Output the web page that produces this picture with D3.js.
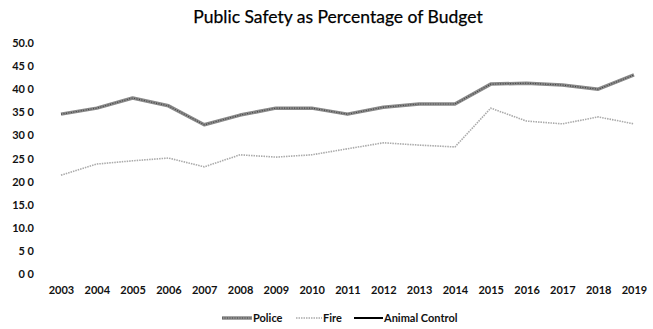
<!DOCTYPE html>
<html><head><meta charset="utf-8">
<script src="https://cdn.jsdelivr.net/npm/d3@7"></script>
<style>body{margin:0;background:#fff}svg{display:block}text{font-family:Lato,"Open Sans",sans-serif}</style>
</head><body><svg id="c" width="653" height="329"></svg>
<script>
const years = ["2003","2004","2005","2006","2007","2008","2009","2010","2011","2012","2013","2014","2015","2016","2017","2018","2019"];
const police = [34.6,35.9,38.1,36.4,32.3,34.4,35.9,35.9,34.6,36.1,36.8,36.8,41.1,41.3,40.9,40.0,43.1];
const fire = [21.4,23.8,24.5,25.1,23.2,25.8,25.3,25.8,27.1,28.4,27.9,27.5,35.9,33.1,32.5,34.0,32.5];
const animalControl = [];
const yTicks = [0,5,10,15,20,25,30,35,40,45,50];
const yTickLabels = ["0 0","5 0","10.0","15.0","20 0","25 0","30 0","35 0","40 0","45 0","50.0"];

const svg = d3.select("#c");
const x = d3.scalePoint().domain(years).range([61,634]);
const y = d3.scaleLinear().domain([0,50]).range([274,43]);

svg.append("text").attr("x",338).attr("y",23).attr("text-anchor","middle")
  .attr("font-size",17.5).attr("fill","#000").attr("stroke","#000").attr("stroke-width",0.25)
  .text("Public Safety as Percentage of Budget");

const yAxis = d3.axisLeft(y).tickValues(yTicks).tickSize(0).tickPadding(0)
  .tickFormat((d,i)=>yTickLabels[i]);
const gy = svg.append("g").attr("transform","translate(34,0)").call(yAxis);
gy.select(".domain").remove();
gy.selectAll("text").attr("font-size",11).attr("font-weight","bold").attr("fill","#111");

const xAxis = d3.axisBottom(x).tickSize(0).tickPadding(0);
const gx = svg.append("g").attr("transform","translate(0,286)").call(xAxis);
gx.select(".domain").remove();
gx.selectAll("text").attr("font-size",11).attr("font-weight","bold").attr("fill","#111");

const line = d3.line().x((d,i)=>x(years[i])).y(d=>y(d));
// Police: thick textured gray
svg.append("path").datum(police).attr("d",line).attr("fill","none")
  .attr("stroke","#8a8a8a").attr("stroke-width",3.5).attr("stroke-linejoin","round");
svg.append("path").datum(police).attr("d",line).attr("fill","none")
  .attr("stroke","#444").attr("stroke-width",1.2).attr("stroke-dasharray","1 1.5");
// Fire: light dotted
svg.append("path").datum(fire).attr("d",line).attr("fill","none")
  .attr("stroke","#aaa").attr("stroke-width",1.6).attr("stroke-dasharray","1.5 1");
// Animal control
if (animalControl.length) svg.append("path").datum(animalControl).attr("d",line)
  .attr("fill","none").attr("stroke","#000").attr("stroke-width",2);

// Legend
const leg = svg.append("g").attr("transform","translate(0,318)");
const items = [
  {name:"Police", x1:222, x2:252, stroke:"#8a8a8a", w:3.5, dash:null},
  {name:"Fire", x1:296, x2:322, stroke:"#aaa", w:1.6, dash:"1.5 1"},
  {name:"Animal Control", x1:354, x2:383, stroke:"#000", w:2, dash:null}
];
items.forEach(it=>{
  leg.append("line").attr("x1",it.x1).attr("x2",it.x2).attr("y1",0).attr("y2",0)
    .attr("stroke",it.stroke).attr("stroke-width",it.w).attr("stroke-dasharray",it.dash);
  if (it.name==="Police") leg.append("line").attr("x1",it.x1).attr("x2",it.x2).attr("y1",0).attr("y2",0)
    .attr("stroke","#444").attr("stroke-width",1.2).attr("stroke-dasharray","1 1.5");
  leg.append("text").attr("x",it.x2+1).attr("y",4).attr("font-size",11).attr("font-weight","bold")
    .attr("fill","#111").text(it.name);
});
</script></body></html>
